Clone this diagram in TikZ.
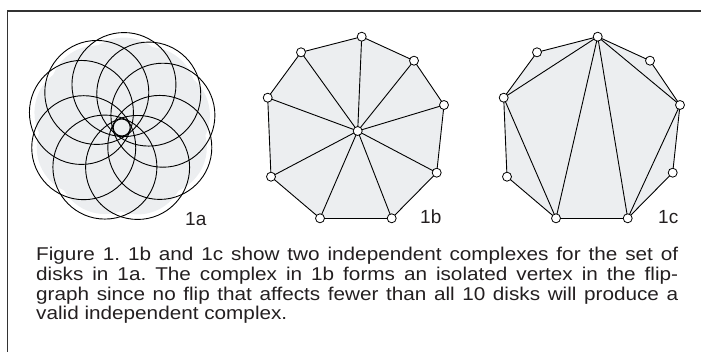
\documentclass[tikz,border=0pt]{standalone}
\usepackage{fontspec}
\setmainfont{Liberation Sans}
\newfontfamily\capfont[FakeStretch=1.12]{Liberation Sans}
\usetikzlibrary{backgrounds}
\definecolor{diskfill}{RGB}{236,238,240}
\definecolor{framecol}{RGB}{51,51,51}
\definecolor{txtcol}{RGB}{35,31,32}
\tikzset{
  vtx/.style={circle, draw=black, fill=white, inner sep=0pt, minimum size=9pt, line width=0.8pt},
  edgeline/.style={draw=black, line width=0.9pt},
  disk/.style={draw=black, line width=0.9pt},
  lbl/.style={anchor=base west, inner sep=0pt, font=\fontsize{19}{23}\selectfont, text=txtcol},
  capline/.style={anchor=base west, inner sep=0pt, font=\capfont\fontsize{18.5}{20}\selectfont\frenchspacing, text=txtcol}
}
\begin{document}
\begin{tikzpicture}[x=1pt,y=-1pt]
\useasboundingbox (0,0) rectangle (701,352);
% frame
\draw[framecol, line width=1.3pt] (7.5,352) -- (7.5,11) -- (701,11);

% ---------- 1a : disks ----------
\def\cx{121.7}\def\cy{127.5}\def\dd{43}\def\rr{52}
\foreach \a in {87,51,16.6,-27.6,-68.3,-113,-152,159.5,125.4}{
  \fill[diskfill] ({\cx+\dd*cos(\a)},{\cy-\dd*sin(\a)}) circle (47pt);
}
\foreach \a in {87,51,16.6,-27.6,-68.3,-113,-152,159.5,125.4}{
  \draw[disk] ({\cx+\dd*cos(\a)},{\cy-\dd*sin(\a)}) circle (\rr pt);
}
\draw[disk] (\cx,\cy) circle (8.5pt);
\node[lbl] (la) at (185,225.5) {1a};

% ---------- 1b ----------
\node[vtx] (b0) at (361.7,36.7) {};
\node[vtx] (b1) at (414,60.7) {};
\node[vtx] (b2) at (444,105) {};
\node[vtx] (b3) at (436.7,172.7) {};
\node[vtx] (b4) at (391.7,218.3) {};
\node[vtx] (b5) at (320,218.3) {};
\node[vtx] (b6) at (271,176.7) {};
\node[vtx] (b7) at (267.7,97.7) {};
\node[vtx] (b8) at (301,52.3) {};
\node[vtx] (bc) at (357.7,131) {};
\node[lbl] (lb) at (420,223.5) {1b};

% ---------- 1c ----------
\node[vtx] (c0) at (597.7,36.7) {};
\node[vtx] (c1) at (650,60.7) {};
\node[vtx] (c2) at (680,105) {};
\node[vtx] (c3) at (672.7,172.7) {};
\node[vtx] (c4) at (627.7,218.3) {};
\node[vtx] (c5) at (556,218.3) {};
\node[vtx] (c6) at (507,176.7) {};
\node[vtx] (c7) at (503.7,97.7) {};
\node[vtx] (c8) at (537,52.3) {};
\node[lbl] (lc) at (658,223.5) {1c};

\begin{pgfonlayer}{background}
  \fill[diskfill] (b0.center) -- (b1.center) -- (b2.center) -- (b3.center) -- (b4.center) -- (b5.center) -- (b6.center) -- (b7.center) -- (b8.center) -- cycle;
  \fill[diskfill] (c0.center) -- (c1.center) -- (c2.center) -- (c3.center) -- (c4.center) -- (c5.center) -- (c6.center) -- (c7.center) -- (c8.center) -- cycle;
  \foreach \i/\j in {0/1,1/2,2/3,3/4,4/5,5/6,6/7,7/8,8/0}{
    \draw[edgeline] (b\i.center) -- (b\j.center);
    \draw[edgeline] (c\i.center) -- (c\j.center);
  }
  \foreach \i in {0,...,8}{
    \draw[edgeline] (bc.center) -- (b\i.center);
  }
  \foreach \i/\j in {0/7,0/5,0/4,0/2,7/5,2/4}{
    \draw[edgeline] (c\i.center) -- (c\j.center);
  }
\end{pgfonlayer}

% ---------- caption ----------
\node[capline] (cap1) at (36,260.5) {\makebox[642pt][s]{Figure 1. 1b and 1c show two independent complexes for the set of}};
\node[capline] (cap2) at (36,280.3) {\makebox[642pt][s]{disks in 1a. The complex in 1b forms an isolated vertex in the flip-}};
\node[capline] (cap3) at (36,300.1) {\makebox[642pt][s]{graph since no flip that affects fewer than all 10 disks will produce a}};
\node[capline] (cap4) at (36,319.8) {valid independent complex.};
\end{tikzpicture}
\end{document}
